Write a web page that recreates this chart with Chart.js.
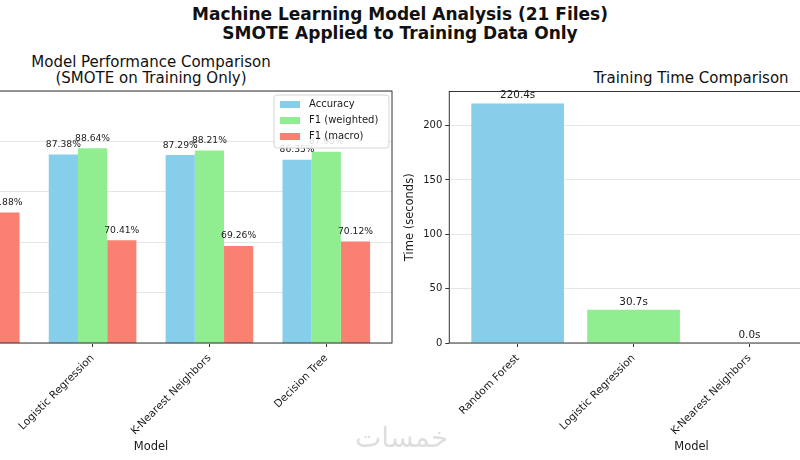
<!DOCTYPE html>
<html>
<head>
<meta charset="utf-8">
<script src="https://cdn.jsdelivr.net/npm/chart.js@4.4.0/dist/chart.umd.min.js"></script>
<style>
html, body { margin: 0; padding: 0; }
body { width: 800px; height: 460px; overflow: hidden; position: relative; background: #fff; font-family: "DejaVu Sans", sans-serif; color: #111; }
#titre { position: absolute; left: 0; top: 4.5px; width: 800px; text-align: center; font-weight: bold; font-size: 17px; line-height: 19px; }
#titreGauche { position: absolute; left: 1px; width: 300px; top: 53.5px; text-align: center; font-size: 15px; line-height: 16px; }
#titreDroite { position: absolute; left: 541px; width: 300px; top: 69.5px; text-align: center; font-size: 15px; line-height: 16px; }
#boiteGauche { position: absolute; left: -170px; top: 50px; width: 580px; height: 410px; }
#boiteDroite { position: absolute; left: 380px; top: 50px; width: 580px; height: 410px; }
#filigrane { position: absolute; left: 355px; top: 421px; font-size: 28px; color: #dedede; }
</style>
</head>
<body>
<div id="titre">Machine Learning Model Analysis (21 Files)<br>SMOTE Applied to Training Data Only</div>
<div id="titreGauche">Model Performance Comparison<br>(SMOTE on Training Only)</div>
<div id="titreDroite">Training Time Comparison</div>
<div id="boiteGauche"><canvas id="perf"></canvas></div>
<div id="boiteDroite"><canvas id="temps"></canvas></div>
<div id="filigrane" dir="rtl">خمسات</div>
<script>
// donnees
const modeles = ['Random Forest', 'Logistic Regression', 'K-Nearest Neighbors', 'Decision Tree'];
const accuracy = [90.45, 87.38, 87.29, 86.35];
const f1Pondere = [90.10, 88.64, 88.21, 87.95];
const f1Macro = [75.88, 70.41, 69.26, 70.12];
const tempsEntrainement = [220.4, 30.7, 0.0, 3.2];
const ticksPerf = [50, 60, 70, 80, 90, 100];
const ticksTemps = [0, 50, 100, 150, 200];

Chart.defaults.font.family = '"DejaVu Sans", sans-serif';
Chart.defaults.color = '#1a1a1a';

const points = (valeurs) => valeurs.map((v, i) => ({ x: i, y: v }));

// cadre complet autour de la zone du graphique (spines)
const cadre = {
    id: 'cadre',
    afterDraw(chart) {
        const { ctx, chartArea: a } = chart;
        ctx.save();
        ctx.strokeStyle = '#333';
        ctx.lineWidth = 1;
        ctx.strokeRect(a.left, a.top, a.right - a.left, a.bottom - a.top);
        ctx.restore();
    }
};

function etiquettes(format, taille, ecart) {
    return {
        id: 'etiquettes',
        afterDatasetsDraw(chart) {
            const ctx = chart.ctx;
            ctx.save();
            ctx.font = taille + 'px "DejaVu Sans"';
            ctx.fillStyle = '#1a1a1a';
            ctx.textAlign = 'center';
            ctx.textBaseline = 'alphabetic';
            chart.data.datasets.forEach((ds, i) => {
                chart.getDatasetMeta(i).data.forEach((barre, j) => {
                    ctx.fillText(format(ds.data[j].y), barre.x, barre.y - ecart);
                });
            });
            ctx.restore();
        }
    };
}

// legende dans le coin haut droit, comme matplotlib
const legendeInterne = {
    id: 'legendeInterne',
    afterDraw(chart) {
        const { ctx, chartArea: a } = chart;
        const largeur = 115, hauteur = 53;
        const x0 = a.right - 3 - largeur, y0 = a.top + 4;
        ctx.save();
        ctx.fillStyle = 'rgba(255,255,255,0.85)';
        ctx.strokeStyle = '#d5d5d5';
        ctx.lineWidth = 1;
        ctx.beginPath();
        ctx.roundRect(x0, y0, largeur, hauteur, 3);
        ctx.fill();
        ctx.stroke();
        ctx.font = '10px "DejaVu Sans"';
        ctx.textBaseline = 'middle';
        chart.data.datasets.forEach((d, i) => {
            const y = y0 + 9.5 + i * 16;
            ctx.fillStyle = d.backgroundColor;
            ctx.fillRect(x0 + 6, y - 3.5, 20, 7);
            ctx.fillStyle = '#1a1a1a';
            ctx.fillText(d.label, x0 + 35, y);
        });
        ctx.restore();
    }
};

const axeX = (min, max) => ({
    type: 'linear',
    min: min,
    max: max,
    offset: false,
    afterBuildTicks: (s) => { s.ticks = modeles.map((m, i) => ({ value: i })); },
    afterFit: (s) => { s.height = 117; },
    grid: { offset: false, drawOnChartArea: false, drawTicks: true, tickLength: 4, tickColor: '#333' },
    border: { display: false },
    ticks: {
        autoSkip: false,
        maxRotation: 45,
        minRotation: 45,
        padding: 5,
        font: { size: 10.6 },
        callback: (v) => modeles[v]
    },
    title: { display: true, text: 'Model', font: { size: 11.5 }, padding: { top: 0, bottom: 6 } }
});

new Chart(document.getElementById('perf'), {
    type: 'bar',
    data: {
        datasets: [
            { label: 'Accuracy', data: points(accuracy), backgroundColor: '#87CEEB' },
            { label: 'F1 (weighted)', data: points(f1Pondere), backgroundColor: '#90EE90' },
            { label: 'F1 (macro)', data: points(f1Macro), backgroundColor: '#FA8072' }
        ]
    },
    options: {
        responsive: true,
        maintainAspectRatio: false,
        animation: false,
        layout: { padding: { top: 41, right: 18, left: 0, bottom: 0 } },
        datasets: { bar: { categoryPercentage: 0.75, barPercentage: 1.0 } },
        plugins: { legend: { display: false }, tooltip: { enabled: false } },
        scales: {
            x: axeX(-0.5625, 3.5625),
            y: {
                min: 50,
                max: 100,
                afterBuildTicks: (s) => { s.ticks = ticksPerf.map(v => ({ value: v })); },
                afterFit: (s) => { s.width = 80; },
                grid: { color: '#e6e6e6', tickColor: '#333', tickLength: 4 },
                border: { display: false },
                ticks: { font: { size: 10 }, padding: 3 }
            }
        }
    },
    plugins: [etiquettes(v => v.toFixed(2) + '%', 9.2, 7.5), cadre, legendeInterne]
});

new Chart(document.getElementById('temps'), {
    type: 'bar',
    data: {
        datasets: [
            {
                label: 'Training Time',
                data: points(tempsEntrainement),
                backgroundColor: ['#87CEEB', '#90EE90', '#FA8072', '#FFD700']
            }
        ]
    },
    options: {
        responsive: true,
        maintainAspectRatio: false,
        animation: false,
        layout: { padding: { top: 41.5, right: 26.3, left: 0, bottom: 0 } },
        datasets: { bar: { categoryPercentage: 1.0, barPercentage: 0.8 } },
        plugins: { legend: { display: false }, tooltip: { enabled: false } },
        scales: {
            x: axeX(-0.59, 3.59),
            y: {
                min: 0,
                max: 231.4,
                afterBuildTicks: (s) => { s.ticks = ticksTemps.map(v => ({ value: v })); },
                afterFit: (s) => { s.width = 69.3; },
                grid: { color: '#e6e6e6', tickColor: '#333', tickLength: 4 },
                border: { display: false },
                ticks: { font: { size: 10 }, padding: 3 },
                title: { display: true, text: 'Time (seconds)', font: { size: 11.5 }, padding: { top: 23, bottom: 0 } }
            }
        }
    },
    plugins: [etiquettes(v => v.toFixed(1) + 's', 10.4, 5), cadre]
});
</script>
</body>
</html>
